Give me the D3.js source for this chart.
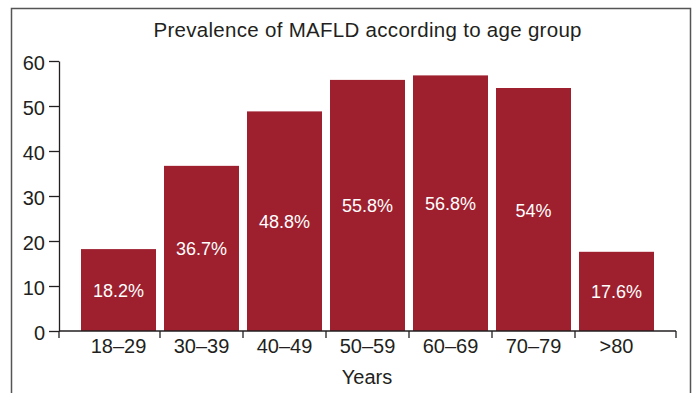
<!DOCTYPE html>
<html><head><meta charset="utf-8">
<script src="https://cdn.jsdelivr.net/npm/d3@7"></script>
<style>
body{margin:0;background:#fff;}
text{font-family:"Liberation Sans",Arial,Helvetica,sans-serif;}
</style></head>
<body><svg id="c" width="694" height="393"></svg>
<script>
const categories = ["18–29","30–39","40–49","50–59","60–69","70–79",">80"];
const prevalence = [18.2,36.7,48.8,55.8,56.8,54,17.6];
const valueLabels = ["18.2%","36.7%","48.8%","55.8%","56.8%","54%","17.6%"];
const yTicks = [0,10,20,30,40,50,60];
const title = "Prevalence of MAFLD according to age group";
const xTitle = "Years";

const svg = d3.select("#c");
const barColor = "#9e1f2e", textColor = "#231f20";

// frame
svg.append("path").attr("d","M11.5,400V8.5H690.5V400").attr("fill","none").attr("stroke","#555").attr("stroke-width",1.5);

const y = d3.scaleLinear().domain([0,60]).range([331,61]);
const x = d3.scaleBand().domain(categories).range([77,658]).paddingInner(8/83).paddingOuter(4/83);
const axisStart = 59, axisEnd = 676;

svg.append("text").attr("x",153.5).attr("y",37)
  .attr("font-size",20.5).attr("fill",textColor)
  .attr("textLength",428).attr("lengthAdjust","spacing").text(title);

svg.selectAll("rect.bar").data(prevalence).join("rect").attr("class","bar")
  .attr("x",(d,i)=>x(categories[i])).attr("width",x.bandwidth())
  .attr("y",d=>y(d)).attr("height",d=>y(0)-y(d)).attr("fill",barColor);

svg.selectAll("text.val").data(prevalence).join("text").attr("class","val")
  .attr("x",(d,i)=>x(categories[i])+x.bandwidth()/2)
  .attr("y",d=>(y(d)+y(0))/2+7)
  .attr("text-anchor","middle").attr("font-size",18).attr("fill","#fff")
  .text((d,i)=>valueLabels[i]);

// y axis
const ya = svg.append("g").attr("transform",`translate(${axisStart},0)`)
  .call(d3.axisLeft(y).tickValues(yTicks).tickSize(10).tickSizeOuter(0).tickPadding(4));
ya.select(".domain").attr("stroke",textColor).attr("stroke-width",1.3);
ya.selectAll(".tick line").attr("stroke",textColor).attr("stroke-width",1.3);
ya.selectAll(".tick text").attr("font-size",20).attr("fill",textColor).attr("dy","0.4em").attr("font-family",null);

// x axis
const step = x.step(), gap = step*x.paddingInner();
const bounds = [axisStart].concat(categories.slice(1).map(c=>x(c)-gap/2)).concat([axisEnd]);
const xa = svg.append("g");
xa.append("line").attr("x1",axisStart).attr("x2",axisEnd).attr("y1",y(0)).attr("y2",y(0))
  .attr("stroke",textColor).attr("stroke-width",1.3);
xa.selectAll("line.t").data(bounds).join("line").attr("class","t")
  .attr("x1",d=>d).attr("x2",d=>d).attr("y1",y(0)).attr("y2",y(0)+7)
  .attr("stroke",textColor).attr("stroke-width",1.3);
xa.selectAll("text").data(categories).join("text")
  .attr("x",d=>x(d)+x.bandwidth()/2).attr("y",353).attr("text-anchor","middle")
  .attr("font-size",20).attr("fill",textColor).text(d=>d);

svg.append("text").attr("x",367).attr("y",383.5).attr("text-anchor","middle")
  .attr("font-size",20).attr("fill",textColor).text(xTitle);
</script></body></html>
